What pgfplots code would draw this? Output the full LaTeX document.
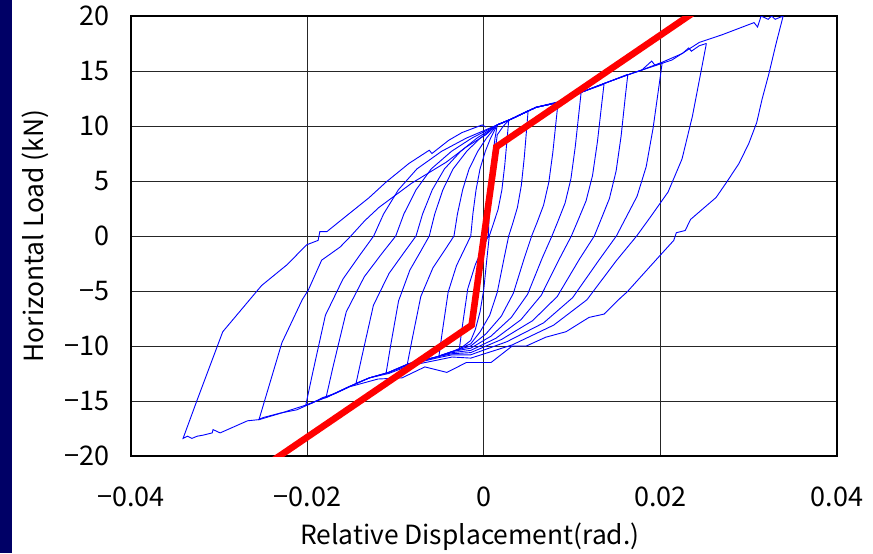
\documentclass[border=0pt]{standalone}
\usepackage{fontspec}
\setmainfont{Noto Sans CJK JP}
\usepackage{pgfplots}
\pgfplotsset{compat=1.18}
\definecolor{navyband}{RGB}{0,0,102}
\definecolor{loopblue}{RGB}{0,0,255}
\definecolor{fitred}{RGB}{255,0,0}

\begin{document}
\fontsize{13.2}{16}\selectfont
\begin{tikzpicture}
\useasboundingbox (-65.5pt,-48.5pt) rectangle (371pt,228pt);
\fill[navyband] (-65.5pt,-48.5pt) rectangle (-59.5pt,228pt);
\begin{axis}[
  at={(0pt,0pt)}, anchor=south west,
  width=353pt, height=220pt, scale only axis,
  xmin=-0.04, xmax=0.04, ymin=-20, ymax=20,
  scaled x ticks=false, scaled y ticks=false,
  xtick={-0.04,-0.02,0,0.02,0.04},
  xticklabels={−0.04,−0.02,0,0.02,0.04},
  ytick={-20,-15,-10,-5,0,5,10,15,20},
  yticklabels={−20,−15,−10,−5,0,5,10,15,20},
  tick label style={font=\fontsize{13.5}{16}\selectfont},
  xticklabel style={yshift=-11pt},
  yticklabel style={xshift=-6pt},
  grid=major, major grid style={black!85, line width=0.5pt},
  axis line style={black, line width=0.8pt},
  tick style={draw=none},
  xlabel={Relative Displacement(rad.)},
  ylabel={Horizontal Load (kN)},
  label style={font=\fontsize{13.2}{16}\selectfont},
  xlabel style={at={(axis description cs:0.48,-0.184)}, anchor=center},
  ylabel style={at={(axis description cs:-0.136,0.5)}, anchor=center},
]
% initial elastic cycles and cycle 1
\addplot[loopblue, line width=0.45pt] coordinates {
(0,0) (0.0007,4.5) (0.0014,8.6) (0.0008,4.0) (0.0,-0.5) (-0.0007,-4.5) (-0.0014,-8.3) (-0.0006,-3.5) (0.0002,0.8) (0.0010,6.0) (0.0015,9.2) (0.0022,10.0)
(0.0028,10.5) (0.00265,9.1) (0.00236,6.5) (0.00203,4.2) (0.00159,2.4) (0.00104,1.05) (0.0006,0)
(0.00035,-1.9) (-0.00003,-4.9) (-0.00045,-6.9) (-0.00098,-8.5) (-0.0015,-9.5) (-0.0028,-10.3)
(-0.00247,-8.3) (-0.00184,-4.8) (-0.00098,-2.6) (-0.00016,-1.1) (0.0005,0)
(0.00058,2.0) (0.0007,4.2) (0.00085,6.1) (0.00105,7.7) (0.00125,8.9) (0.0015,10.1) (0.003,10.6) (0.005,11.4)
};
% cycle 2
\addplot[loopblue, line width=0.45pt] coordinates {
(0.005,11.4) (0.00485,9.9) (0.00456,7.1) (0.00423,4.6) (0.00379,2.6) (0.00324,1.1) (0.0028,0)
(0.00228,-2.0) (0.00151,-5.1) (0.00065,-7.2) (-0.00043,-8.7) (-0.0015,-9.8) (-0.0036,-10.5) (-0.0051,-10.9)
(-0.00474,-8.8) (-0.00406,-5.1) (-0.00312,-2.7) (-0.00222,-1.2) (-0.0015,0)
(-0.00126,2.0) (-0.0009,4.2) (-0.00045,6.1) (0.00015,7.7) (0.00075,8.9) (0.0015,10.1) (0.003,10.6) (0.0059,11.7) (0.0084,12.2)
};
% cycle 3
\addplot[loopblue, line width=0.45pt] coordinates {
(0.0084,12.2) (0.00819,10.6) (0.0078,7.6) (0.00735,4.9) (0.00675,2.8) (0.006,1.2) (0.0054,0)
(0.00457,-2.0) (0.00333,-5.2) (0.00195,-7.3) (0.00022,-8.9) (-0.0015,-10.0) (-0.0036,-10.5) (-0.0054,-11.0) (-0.0087,-11.7)
(-0.00817,-9.5) (-0.00716,-5.5) (-0.00579,-2.9) (-0.00446,-1.3) (-0.0034,0)
(-0.00301,2.0) (-0.00242,4.2) (-0.00169,6.1) (-0.0007,7.7) (0.00028,8.9) (0.0015,10.1) (0.003,10.6) (0.0059,11.7) (0.0082,12.1) (0.011,13.0)
};
% cycle 4
\addplot[loopblue, line width=0.45pt] coordinates {
(0.011,13.0) (0.01077,11.3) (0.01034,8.1) (0.00985,5.2) (0.00919,3.0) (0.00836,1.3) (0.0077,0)
(0.0066,-2.0) (0.00494,-5.3) (0.0031,-7.4) (0.0008,-9.1) (-0.0015,-10.2) (-0.0036,-10.5) (-0.0054,-11.0) (-0.0085,-11.6) (-0.0111,-12.5)
(-0.01061,-10.1) (-0.00968,-5.9) (-0.0084,-3.1) (-0.00718,-1.4) (-0.0062,0)
(-0.00558,2.0) (-0.00466,4.2) (-0.0035,6.1) (-0.00196,7.7) (-0.00043,8.9) (0.0015,10.1) (0.003,10.6) (0.0059,11.7) (0.0082,12.1) (0.0108,13.0) (0.0136,13.8)
};
% cycle 5
\addplot[loopblue, line width=0.45pt] coordinates {
(0.0136,13.8) (0.01334,12.0) (0.01286,8.6) (0.0123,5.5) (0.01157,3.2) (0.01064,1.4) (0.0099,0)
(0.00853,-2.1) (0.00648,-5.4) (0.0042,-7.6) (0.00135,-9.3) (-0.0015,-10.4) (-0.0036,-10.6) (-0.0054,-11.0) (-0.0085,-11.6) (-0.0108,-12.4) (-0.013,-12.9) (-0.0145,-13.4)
(-0.01382,-10.9) (-0.01253,-6.3) (-0.01076,-3.4) (-0.00906,-1.5) (-0.0077,0)
(-0.00696,2.0) (-0.00586,4.2) (-0.00448,6.1) (-0.00264,7.7) (-0.0008,8.9) (0.0015,10.1) (0.003,10.6) (0.0059,11.7) (0.0082,12.1) (0.0108,13.0) (0.0134,13.8) (0.0163,14.7)
};
% cycle 6
\addplot[loopblue, line width=0.45pt] coordinates {
(0.0163,14.7) (0.01603,12.8) (0.01554,9.1) (0.01497,5.9) (0.01421,3.4) (0.01326,1.5) (0.0125,0)
(0.01082,-2.1) (0.0083,-5.5) (0.0055,-7.7) (0.002,-9.4) (-0.0015,-10.6) (-0.0036,-10.7) (-0.0054,-11.0) (-0.0085,-11.6) (-0.0108,-12.4) (-0.013,-12.9) (-0.0153,-13.7) (-0.0179,-14.7)
(-0.01711,-11.9) (-0.01561,-6.9) (-0.01356,-3.7) (-0.01158,-1.6) (-0.010,0)
(-0.00908,2.0) (-0.0077,4.2) (-0.00598,6.1) (-0.00368,7.7) (-0.00138,8.9) (0.0015,10.1) (0.003,10.6) (0.0059,11.7) (0.0082,12.1) (0.0108,13.0) (0.0134,13.8) (0.0161,14.6) (0.0179,15.1) (0.0190,15.9) (0.0194,15.5) (0.0202,15.8)
};
% cycle 7
\addplot[loopblue, line width=0.45pt] coordinates {
(0.0202,15.8) (0.01984,13.7) (0.01916,9.8) (0.01838,6.3) (0.01734,3.6) (0.01604,1.6) (0.015,0)
(0.01302,-2.2) (0.01005,-5.6) (0.00675,-7.9) (0.00262,-9.6) (-0.0015,-10.8) (-0.0036,-10.8) (-0.0054,-11.1) (-0.0085,-11.7) (-0.0108,-12.4) (-0.013,-12.9) (-0.0153,-13.7) (-0.0177,-14.6) (-0.0202,-15.4)
(-0.01943,-12.5) (-0.01797,-7.2) (-0.01597,-3.9) (-0.01404,-1.7) (-0.0125,0)
(-0.01138,2.0) (-0.0097,4.2) (-0.0076,6.1) (-0.0048,7.7) (-0.002,8.9) (0.0015,10.1) (0.003,10.6) (0.0059,11.7) (0.0082,12.1) (0.0108,13.0) (0.0134,13.8) (0.0161,14.6) (0.0179,15.1) (0.0202,15.8) (0.0225,16.6) (0.0232,17.1) (0.0235,16.8) (0.0244,17.3) (0.0252,17.5)
};
% cycle 8
\addplot[loopblue, line width=0.45pt] coordinates {
(0.0252,17.5) (0.02465,15.2) (0.02362,10.9) (0.02244,7.0) (0.02086,4.0) (0.01888,1.75) (0.0173,0)
(0.01504,-2.2) (0.01166,-5.8) (0.0079,-8.1) (0.0032,-9.9) (-0.0015,-11.1) (-0.0036,-11.0) (-0.0054,-11.3) (-0.0085,-11.8) (-0.0108,-12.5) (-0.013,-12.9) (-0.0153,-13.7) (-0.0177,-14.6) (-0.0203,-15.4) (-0.023,-16.1) (-0.0255,-16.7)
(-0.0229,-9.7) (-0.0206,-5.8) (-0.0199,-4.9) (-0.0184,-2.2) (-0.0163,-1.0) (-0.0152,-0.1) (-0.0135,1.4) (-0.0119,2.6) (-0.0082,4.8) (-0.0043,6.7) (-0.002,8.1) (0.0002,9.2) (0.0015,10.1) (0.003,10.6) (0.0059,11.7) (0.0082,12.1) (0.0108,13.0) (0.0134,13.8) (0.0161,14.6) (0.0176,15.0) (0.0213,16.0) (0.0244,17.6) (0.0270,18.3) (0.0306,19.4) (0.0310,19.0) (0.0314,20.0) (0.0322,19.7) (0.0326,20.0) (0.0330,19.7) (0.0339,20.0)
};
% cycle 9
\addplot[loopblue, line width=0.45pt] coordinates {
(0.0339,20.0) (0.0331,17.5) (0.0323,14.8) (0.0315,12.4) (0.0309,10.3) (0.0300,8.4) (0.0289,6.6) (0.0275,4.9) (0.0263,3.5) (0.0247,2.4) (0.0234,1.5) (0.0228,0.5) (0.0218,0.3) (0.0215,-0.4) (0.0198,-1.9) (0.0162,-5.1) (0.0155,-5.6) (0.0136,-7.1) (0.0119,-7.4) (0.0093,-8.7) (0.0070,-9.2) (0.0048,-10.0) (0.0032,-10.0) (0.0008,-11.5) (-0.0020,-11.5) (-0.0042,-12.4) (-0.0067,-11.9) (-0.0093,-12.9) (-0.0120,-13.0) (-0.0152,-13.7) (-0.0168,-14.3) (-0.0183,-14.7) (-0.0195,-15.2) (-0.0201,-15.4) (-0.0212,-15.8) (-0.0231,-16.1) (-0.0250,-16.5) (-0.0256,-16.7) (-0.0268,-16.8) (-0.0299,-17.9) (-0.0307,-17.6) (-0.0308,-17.9) (-0.0318,-18.1) (-0.0325,-18.2) (-0.0331,-18.4) (-0.0336,-18.2) (-0.0341,-18.4)
(-0.0325,-14.9) (-0.0296,-8.7) (-0.0252,-4.5) (-0.0223,-2.6) (-0.0201,-0.8) (-0.0188,-0.4) (-0.0186,0.4) (-0.0178,0.4) (-0.0161,1.5) (-0.0130,3.5) (-0.0111,4.9) (-0.0085,6.6) (-0.0062,7.8) (-0.0059,7.5) (-0.0040,8.7) (-0.0025,9.4) (-0.0002,10.1) (0.0002,9.9)
};
% bilinear model
\addplot[fitred, line width=3.3pt] coordinates {
(-0.0250,-21.0) (-0.0014,-8.1) (0.0014,8.1) (0.0250,21.0)
};
\end{axis}
\end{tikzpicture}
\end{document}
